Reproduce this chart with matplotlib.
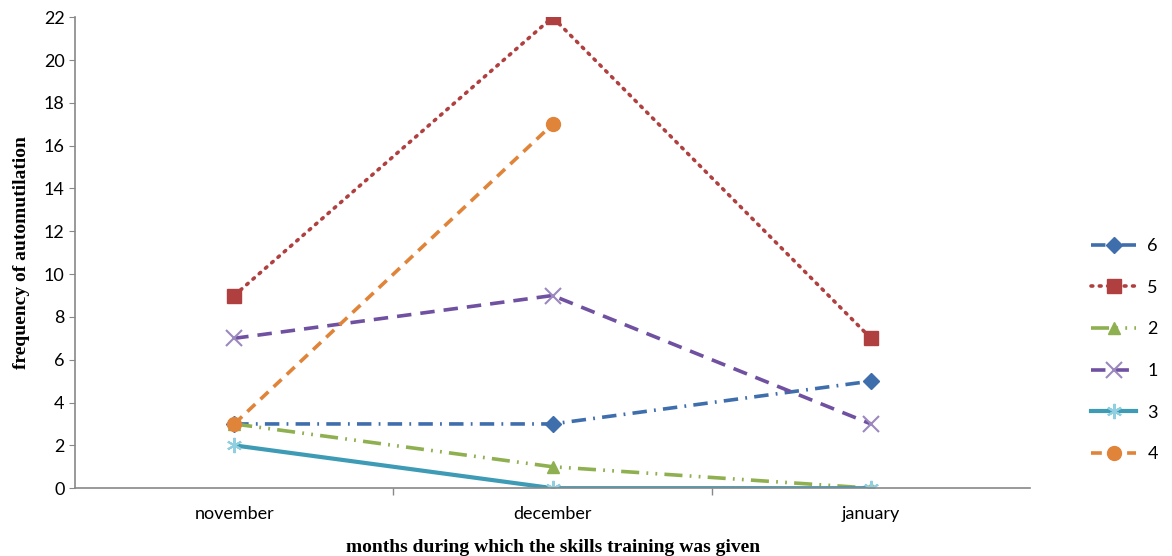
import matplotlib
matplotlib.use("Agg")
import matplotlib.pyplot as plt
import numpy as np

# data
months = ["november", "december", "january"]
s6 = [3, 3, 5]
s5 = [9, 22, 7]
s2 = [3, 1, 0]
s1 = [7, 9, 3]
s3 = [2, 0, 0]
s4 = [3, 17]

fig = plt.figure(figsize=(11.72, 5.56), dpi=100)
ax = fig.add_axes([0.064, 0.122, 0.815, 0.847])

x = np.arange(len(months))
lw = 2.6

ax.plot(x, s6, color="#3F6EAD", lw=lw, linestyle=(0, (4, 2, 0.5, 2)),
        marker="D", ms=8, label="6")
ax.plot(x, s5, color="#B04040", lw=lw, linestyle=(0, (0.5, 1.8)),
        marker="s", ms=10, label="5", dash_capstyle="round")
ax.plot(x, s2, color="#8FB050", lw=lw, linestyle=(0, (5, 2, 0.5, 2, 0.5, 2)),
        marker="^", ms=9, label="2")
ax.plot(x, s1, color="#7050A0", lw=lw, linestyle=(0, (4, 2.5)),
        marker="x", ms=11, mew=1.5, mec="#9A88BE", label="1")
ax.plot(x, s3, color="#3E9BB5", lw=3, linestyle="-",
        marker=(6, 2, 0), ms=11, mew=1.5, mec="#8FCFE0", label="3")
ax.plot(x[:len(s4)], s4, color="#E0843A", lw=lw, linestyle=(0, (3, 2)),
        marker="o", ms=10, label="4")

ax.set_xlim(-0.5, 2.5)
ax.set_ylim(0, 22)
ax.set_yticks(range(0, 23, 2))
ax.set_xticks(x)
ax.set_xticklabels(months, fontsize=13, family="Lato")
ax.set_xticks([0.5, 1.5], minor=True)
ax.tick_params(axis="x", which="major", length=0, pad=13)
ax.tick_params(axis="x", which="minor", length=5, color="#888888", width=1)
ax.tick_params(axis="y", length=4, color="#888888", labelsize=13)
for lab in ax.get_yticklabels():
    lab.set_family("Lato")

for s in ["top", "right"]:
    ax.spines[s].set_visible(False)
for s in ["left", "bottom"]:
    ax.spines[s].set_color("#888888")
    ax.spines[s].set_linewidth(1.2)

ax.set_ylabel("frequency of automutilation", family="Liberation Serif",
              fontweight="bold", fontsize=14, labelpad=10)
ax.set_xlabel("months during which the skills training was given",
              family="Liberation Serif", fontweight="bold", fontsize=14, labelpad=12)

leg = ax.legend(loc="center left", bbox_to_anchor=(1.064, 0.293), frameon=False,
                borderpad=0, borderaxespad=0, handlelength=2.5, handletextpad=0.6,
                labelspacing=1.42, prop={"family": "Lato", "size": 13})

fig.savefig("out.png", dpi=100)
